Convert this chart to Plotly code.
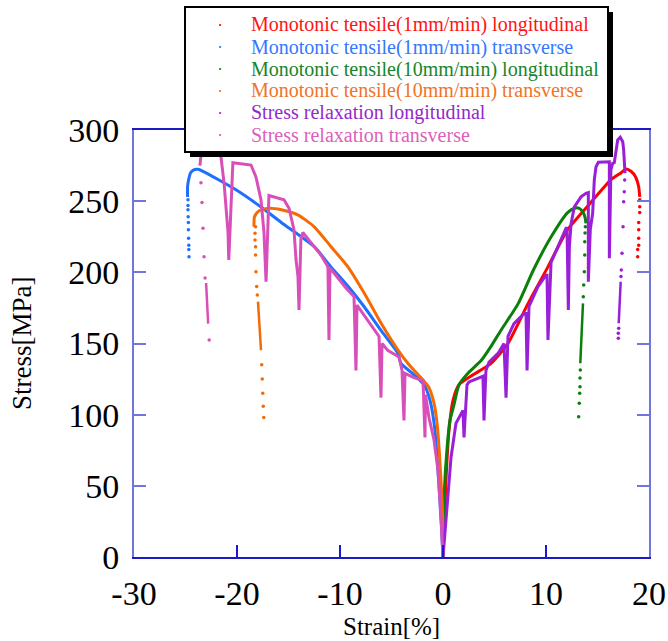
import plotly.graph_objects as go

# ---------------- data ----------------
series_names = [
    "Monotonic tensile(1mm/min) longitudinal",
    "Monotonic tensile(1mm/min) transverse",
    "Monotonic tensile(10mm/min) longitudinal",
    "Monotonic tensile(10mm/min) transverse",
    "Stress relaxation longitudinal",
    "Stress relaxation transverse",
]

# Monotonic 1mm/min longitudinal (red)
red_x = [0, 0.29, 0.58, 0.97, 1.55, 2.7, 4.66, 6.3, 8.25, 10.2, 12.1, 14.1, 16.3, 17.3, 17.77, 18.25, 18.7, 19.0, 19.1]
red_y = [0, 54, 89, 110, 121, 127, 136, 150, 178, 204, 230, 247, 265, 270, 272.6, 271, 267, 260, 253]
red_tail_x = [19.1, 19.1, 19.1, 19.0, 19.0, 19.0, 19.0, 18.9, 18.9]
red_tail_y = [251, 246, 242, 235, 230, 224, 219, 216, 211]

# Monotonic 1mm/min transverse (blue)
blue_x = [0, -0.19, -0.49, -0.78, -1.26, -1.84, -2.8, -4.08, -4.37, -6.0, -7.67, -9.2, -10.9, -12.5,
          -15.7, -17.5, -20.1, -23.3, -23.8, -24.2, -24.5, -24.7, -24.8, -24.8]
blue_y = [0, 26, 61, 89, 110, 121, 128, 136, 143, 159, 176, 190, 204, 218,
          235, 245, 258, 271, 272.4, 272, 270, 265, 260, 253]
blue_tail_x = [-24.76, -24.76, -24.76, -24.74, -24.72, -24.72, -24.7, -24.68, -24.68, -24.66]
blue_tail_y = [251, 247, 244, 239, 235, 230, 224, 219, 216, 211]

# Monotonic 10mm/min longitudinal (green)
green_x = [0, 0.1, 0.4, 0.68, 1.07, 1.55, 2.4, 3.7, 4.66, 5.6, 7.3, 8.8, 10.5, 12.1, 12.75, 13.23, 13.56, 13.79, 13.88]
green_y = [0, 42, 77, 96, 107, 121, 129, 138, 148, 159, 178, 202, 225, 242, 245, 245, 242.6, 238.7, 234.4]
green_tail_x = [13.82, 13.79, 13.76, 13.76, 13.72, 13.66, 13.62,
                13.33, 13.3, 13.3, 13.27, 13.23, 13.17]
green_tail_y = [232.1, 227.6, 221.5, 212.2, 200.4, 191.1, 182.9,
                131.4, 125.8, 119.7, 115, 108, 98.6]
green_solid_x = [13.59, 13.33]
green_solid_y = [178.2, 136.1]

# Monotonic 10mm/min transverse (orange)
orange_x = [0, 0, -0.29, -0.58, -0.87, -1.36, -2.14, -3.4, -4.37, -6.02, -7.64, -9.25, -10.87, -12.5,
            -14.1, -15.7, -16.9, -17.9, -18.3, -18.35]
orange_y = [0, 19, 66, 94, 108, 119, 126, 136, 145.4, 164.4, 185.3, 204, 218, 232,
            240.4, 244, 245, 243, 239, 232]
orange_tail_x = [-18.2, -18.25, -18.25, -18.2, -18.2, -18.16, -18.09, -18.03,
                 -17.6, -17.55, -17.5, -17.45, -17.4]
orange_tail_y = [232, 227.4, 222.7, 218, 212.2, 200.4, 190, 184,
                 135, 125, 115, 106, 98]
orange_solid_x = [-17.96, -17.67]
orange_solid_y = [179.4, 145.4]

# Stress relaxation longitudinal (purple)
purple_x = [0, 0.49, 0.78, 1.26, 1.75, 1.94, 2.04, 2.33, 2.52, 3.69, 3.88, 3.98, 4.17, 4.47, 5.34,
            5.92, 6.12, 6.31, 6.89, 7.86, 8.06, 8.16, 8.35, 9.22, 10.0, 10.1, 10.19, 10.49, 11.75,
            11.94, 12.04, 12.17, 12.27, 12.43, 12.75, 13.4, 13.88, 14.11, 14.11, 14.3, 14.53, 14.69,
            14.85, 15.08, 16.15, 16.15, 16.3, 16.47, 16.63, 16.8, 16.96, 17.21, 17.45, 17.54, 17.64, 17.67]
purple_y = [0, 42, 70, 94, 101, 103, 84, 121, 123, 126, 127, 96, 131, 137, 143,
            150, 112, 155, 164, 171, 171, 131, 176, 190, 198, 198, 152.5, 207, 228,
            231, 231, 173.5, 218, 234, 246, 253, 255.5, 256, 193.4, 230, 241.5, 265,
            274, 277.3, 277.7, 209.9, 272, 276.6, 277, 286, 293, 294.9, 291.8, 286, 276.6, 269.6]
purple_tail_x = [17.64, 17.6, 17.54, 17.48, 17.38, 17.31, 17.28, 17.06, 17.02, 17.02]
purple_tail_y = [264.9, 256.7, 249.6, 232, 213.4, 201.6, 197, 160.7, 157.2, 153.7]
purple_solid_x = [17.25, 17.06]
purple_solid_y = [193.4, 164.2]

# Stress relaxation transverse (pink)
pink_x = [0, -0.19, -0.49, -0.87, -1.36, -1.65, -1.70, -1.75, -1.94, -2.82, -3.69, -3.79, -3.98, -4.27,
          -5.34, -5.92, -6.02, -6.21, -8.25, -8.35, -8.45, -8.64, -9.42, -10.87, -10.97, -11.07, -11.17,
          -11.84, -13.6, -13.8, -13.98, -14.08, -14.27, -14.47, -14.95, -15.44, -15.92, -16.9, -17.18,
          -17.38, -17.67, -18.16, -18.64, -20.4, -20.8, -20.87, -21.26, -21.55, -21.75, -22.2, -22.6,
          -23.1, -23.5, -23.6]
pink_y = [0, 28, 61, 82, 98, 112, 114, 84, 124, 126, 129, 96, 131, 140.5,
          145, 150, 112, 155, 176, 177, 131, 183, 189, 202, 203, 152.5, 204,
          212, 228, 223, 173.5, 197, 209, 230, 245, 251, 252, 254, 193.4,
          228, 251, 267, 275.4, 277, 208.7, 228, 263, 281, 293, 298, 299,
          294, 282, 275]
pink_tail_x = [-23.5, -23.4, -23.3, -23.2, -23.1, -22.7]
pink_tail_y = [263, 249, 231, 211, 196, 152.5]
pink_solid_x = [-23.0, -22.9, -22.8]
pink_solid_y = [192.5, 180.6, 164]

x_ticks = [-30, -20, -10, 0, 10, 20]
y_ticks = [0, 50, 100, 150, 200, 250, 300]

# ---------------- styling ----------------
line_colors = ["#ff0000", "#1f6fff", "#0a800a", "#f56a05", "#9a1fd8", "#d94fba"]
text_colors = ["#ff1414", "#3478ff", "#17862a", "#ef7428", "#9428cc", "#dd5fbd"]
SERIF = "Liberation Serif, Times New Roman, serif"

W, H = 668, 641
L, R, T, B = 134, 649, 130, 557


def pxx(x):
    return (x - L) / (R - L)


def pxy(y):
    return (B - y) / (B - T)


fig = go.Figure()

mains = [(red_x, red_y), (blue_x, blue_y), (green_x, green_y),
         (orange_x, orange_y), (purple_x, purple_y), (pink_x, pink_y)]
tails = [(red_tail_x, red_tail_y), (blue_tail_x, blue_tail_y), (green_tail_x, green_tail_y),
         (orange_tail_x, orange_tail_y), (purple_tail_x, purple_tail_y), (pink_tail_x, pink_tail_y)]
solids = [None, None, (green_solid_x, green_solid_y), (orange_solid_x, orange_solid_y),
          (purple_solid_x, purple_solid_y), (pink_solid_x, pink_solid_y)]

for i in range(6):
    c = line_colors[i]
    mx, my = mains[i]
    if i < 4:
        ln = dict(color=c, width=3, shape="spline", smoothing=0.6)
    else:
        ln = dict(color=c, width=3)
    fig.add_trace(go.Scatter(x=mx, y=my, mode="lines", name=series_names[i],
                             line=ln, showlegend=False))
    tx, ty = tails[i]
    fig.add_trace(go.Scatter(x=tx, y=ty, mode="markers", marker=dict(color=c, size=3.5),
                             showlegend=False, hoverinfo="skip"))
    if solids[i] is not None:
        sx, sy = solids[i]
        fig.add_trace(go.Scatter(x=sx, y=sy, mode="lines", line=dict(color=c, width=2.5),
                                 showlegend=False, hoverinfo="skip"))

# ---------------- manual legend box with shadow ----------------
shapes = []
shapes.append(dict(type="rect", xref="paper", yref="paper", layer="above",
                   x0=pxx(190), x1=pxx(613), y0=pxy(157), y1=pxy(12),
                   fillcolor="black", line=dict(width=0)))
shapes.append(dict(type="rect", xref="paper", yref="paper", layer="above",
                   x0=pxx(185), x1=pxx(608), y0=pxy(152), y1=pxy(7),
                   fillcolor="white", line=dict(color="black", width=2)))
row_y = [25, 47, 69, 91, 113, 135]
annotations = []
for i in range(6):
    shapes.append(dict(type="circle", xref="paper", yref="paper", layer="above",
                       x0=pxx(219), x1=pxx(221.2), y0=pxy(row_y[i] + 1.1), y1=pxy(row_y[i] - 1.1),
                       fillcolor=line_colors[i], line=dict(width=0)))
    annotations.append(dict(xref="paper", yref="paper", x=pxx(249), y=pxy(row_y[i]),
                            xanchor="left", yanchor="middle", showarrow=False,
                            text=series_names[i],
                            font=dict(family=SERIF, size=20, color=text_colors[i])))

annotations.append(dict(xref="paper", yref="paper", x=pxx((L + R) / 2), y=pxy(626),
                        xanchor="center", yanchor="middle", showarrow=False, text="Strain[%]",
                        font=dict(family=SERIF, size=25, color="black")))
annotations.append(dict(xref="paper", yref="paper", x=pxx(22), y=pxy(343), textangle=-90,
                        xanchor="center", yanchor="middle", showarrow=False, text="Stress[MPa]",
                        font=dict(family=SERIF, size=27, color="black")))

fig.update_layout(
    width=W, height=H,
    margin=dict(l=L, r=W - R, t=T, b=H - B, pad=0),
    paper_bgcolor="white", plot_bgcolor="white",
    shapes=shapes, annotations=annotations,
    showlegend=False,
    xaxis=dict(range=[-30, 20], tickvals=x_ticks, ticktext=[str(v) for v in x_ticks],
               ticks="inside", ticklen=12, tickcolor="#1a1ac8", tickwidth=1.5,
               showline=True, linecolor="#1a1ac8", linewidth=1.5, mirror="ticks",
               showgrid=False, zeroline=False, automargin=False, ticklabelstandoff=5,
               tickfont=dict(family=SERIF, size=34, color="black")),
    yaxis=dict(range=[0, 300], tickvals=y_ticks, ticktext=[str(v) for v in y_ticks],
               ticks="inside", ticklen=12, tickcolor="#7474e0", tickwidth=2,
               showline=True, linecolor="#7474e0", linewidth=2, mirror="ticks",
               showgrid=False, zeroline=False, automargin=False, ticklabelstandoff=6,
               tickfont=dict(family=SERIF, size=34, color="black")),
)

fig.write_html("out.html", config={"displayModeBar": False},
               post_script="document.body.style.margin='0px';document.body.style.overflow='hidden';")
